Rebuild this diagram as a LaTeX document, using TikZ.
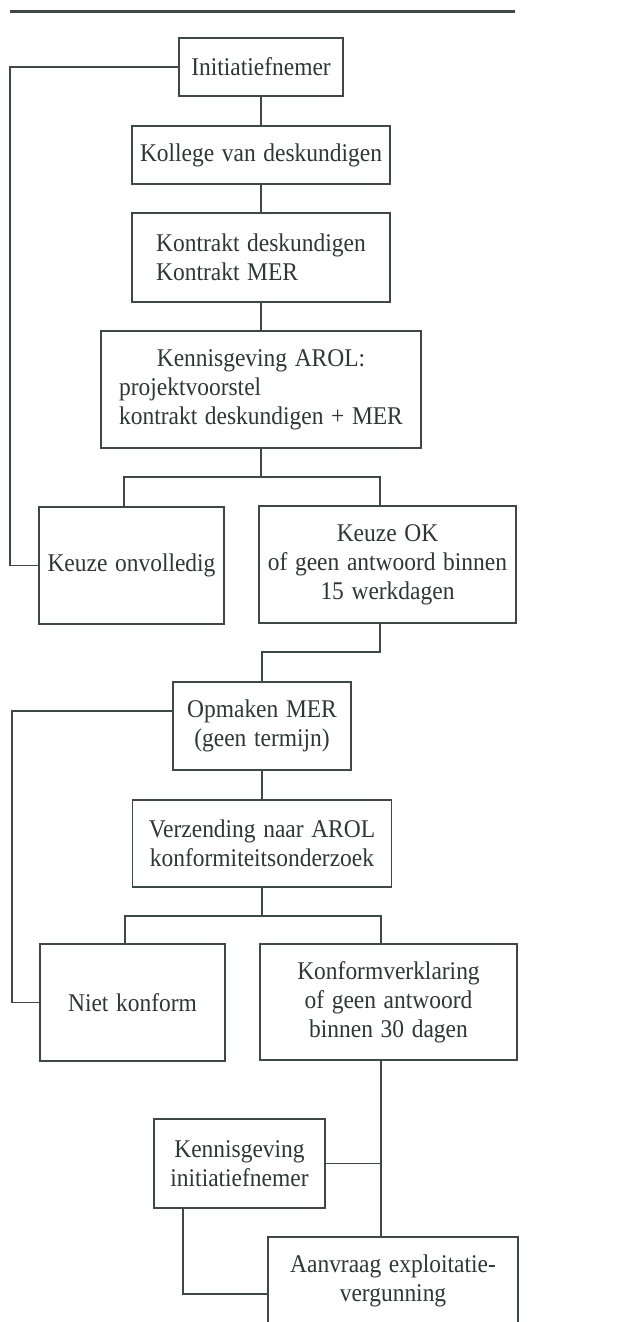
\documentclass[tikz,border=0pt]{standalone}
\usepackage{xcolor}
\usepackage{fontspec}
\setmainfont{Liberation Serif}[FakeStretch=0.92, WordSpace=1.3]
\definecolor{inkgray}{RGB}{62,72,68}
\definecolor{textgray}{RGB}{45,55,52}

\tikzset{
  box/.style={draw=inkgray, line width=1.1pt, text=textgray, inner sep=0pt,
    font=\fontsize{25.5}{29}\selectfont, align=center},
  link/.style={draw=inkgray, line width=1.1pt},
}

\begin{document}
\begin{tikzpicture}[x=1pt,y=-1pt]
\useasboundingbox (0,0) rectangle (626,1322);
\draw[inkgray, line width=3pt] (10,11.5) -- (515,11.5);

\node[box, minimum width=164pt, minimum height=58pt] (init) at (261,67) {Initiatiefnemer};
\node[box, minimum width=258pt, minimum height=58pt] (kollege) at (261,155) {Kollege van deskundigen};
\node[box, minimum width=258pt, minimum height=89pt, align=left] (kontrakt) at (261,257.5)
  {Kontrakt deskundigen\\Kontrakt MER};
\node[box, minimum width=320pt, minimum height=117pt] (arol) at (261,389.5)
  {\begin{tabular}{@{}l@{}}\multicolumn{1}{@{}c@{}}{Kennisgeving AROL:}\\
   projektvoorstel\\kontrakt deskundigen + MER\end{tabular}};
\node[box, minimum width=185pt, minimum height=117pt] (onvolledig) at (131.5,565.5) {Keuze onvolledig};
\node[box, minimum width=257pt, minimum height=117pt] (keuzeok) at (387.5,564.5)
  {Keuze OK\\of geen antwoord binnen\\15 werkdagen};

\node[box, minimum width=178pt, minimum height=88pt] (opmaken) at (262,726) {Opmaken MER\\(geen termijn)};
\node[box, minimum width=259pt, minimum height=87pt] (verzending) at (262,843.5)
  {Verzending naar AROL\\konformiteitsonderzoek};
\node[box, minimum width=185pt, minimum height=117pt] (nietkonform) at (132.5,1002.5) {Niet konform};
\node[box, minimum width=257pt, minimum height=116pt] (konform) at (388.5,1002)
  {Konformverklaring\\of geen antwoord\\binnen 30 dagen};

\node[box, minimum width=171pt, minimum height=89pt] (kennis) at (239.5,1163.5)
  {Kennisgeving\\initiatiefnemer};
\node[box, minimum width=250pt, minimum height=88pt] (aanvraag) at (393,1281)
  {Aanvraag exploitatie-\\vergunning};

% junctions
\coordinate (jA1) at (124,477);
\coordinate (jA2) at (380,477);
\coordinate (jB) at (262,652);
\coordinate (jC1) at (125,916);
\coordinate (jC2) at (381,916);
\coordinate (jE) at (183,1294);
\coordinate (loopA) at (10,300);
\coordinate (loopB) at (12,900);

% main chain
\draw[link] (init) -- (kollege);
\draw[link] (kollege) -- (kontrakt);
\draw[link] (kontrakt) -- (arol);
\draw[link] (arol.south) -- (arol.south |- jA1);
\draw[link] (onvolledig.north -| jA1) -- (jA1) -- (jA2) -- (keuzeok.north -| jA2);
\draw[link] (keuzeok.south -| jA2) |- (jB) -- (opmaken.north);
\draw[link] (opmaken) -- (verzending);
\draw[link] (verzending.south) -- (verzending.south |- jC1);
\draw[link] (nietkonform.north -| jC1) -- (jC1) -- (jC2) -- (konform.north -| jC2);
\draw[link] (konform.south -| jC2) -- (aanvraag.north -| jC2);
\draw[link] (kennis.east) -- (kennis.east -| jC2);
\draw[link] (kennis.south -| jE) -- (jE) -- (aanvraag.west |- jE);

% loops back
\draw[link] (init.west) -| (loopA) |- (onvolledig.west);
\draw[link] ([yshift=15pt]opmaken.west) -| (loopB) |- (nietkonform.west);
\end{tikzpicture}
\end{document}
